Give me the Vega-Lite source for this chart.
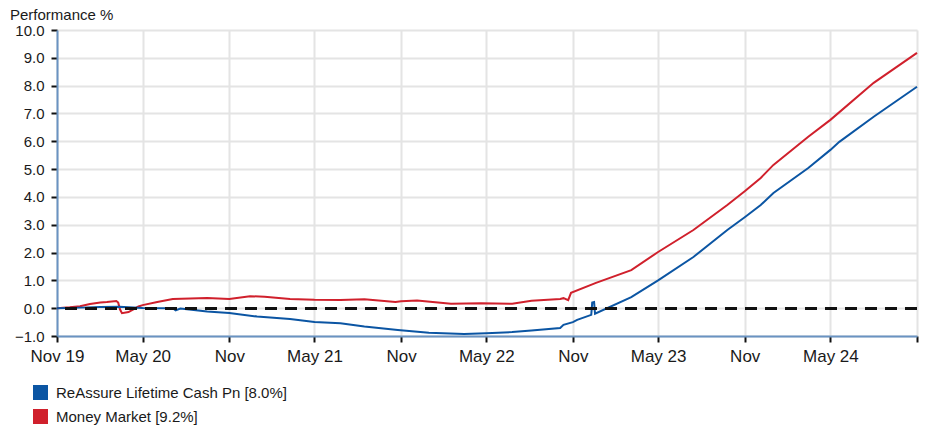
{
  "$schema": "https://vega.github.io/schema/vega-lite/v6.json",
  "width": 860,
  "height": 306,
  "autosize": {"type": "none"},
  "padding": {"left": 57, "top": 30, "right": 16, "bottom": 91},
  "background": "white",
  "title": {
    "text": "Performance %",
    "anchor": "start",
    "frame": "group",
    "dx": -47,
    "offset": -12,
    "baseline": "alphabetic",
    "fontSize": 15,
    "fontWeight": "normal",
    "font": "Liberation Sans",
    "color": "#1a1a1a"
  },
  "config": {
    "view": {"stroke": null},
    "font": "Liberation Sans",
    "axis": {
      "gridColor": "#e4e4e4",
      "gridWidth": 2,
      "domainColor": "#6a93c2",
      "domainWidth": 2,
      "tickColor": "#111111",
      "tickWidth": 2,
      "tickSize": 6,
      "labelColor": "#1a1a1a",
      "labelFont": "Liberation Sans",
      "labelOverlap": false,
      "title": null
    },
    "axisY": {"labelOverlap": false, "labelFontSize": 15, "labelPadding": 7}
  },
  "data": {
    "values": [
      {"date": "2019-11-01", "series": "Money Market [9.2%]", "value": 0.0},
      {"date": "2019-11-28", "series": "Money Market [9.2%]", "value": 0.03},
      {"date": "2019-12-20", "series": "Money Market [9.2%]", "value": 0.07},
      {"date": "2020-01-10", "series": "Money Market [9.2%]", "value": 0.15},
      {"date": "2020-02-01", "series": "Money Market [9.2%]", "value": 0.2},
      {"date": "2020-02-15", "series": "Money Market [9.2%]", "value": 0.22},
      {"date": "2020-03-06", "series": "Money Market [9.2%]", "value": 0.26},
      {"date": "2020-03-10", "series": "Money Market [9.2%]", "value": 0.2},
      {"date": "2020-03-14", "series": "Money Market [9.2%]", "value": -0.05},
      {"date": "2020-03-18", "series": "Money Market [9.2%]", "value": -0.18},
      {"date": "2020-04-01", "series": "Money Market [9.2%]", "value": -0.14},
      {"date": "2020-04-22", "series": "Money Market [9.2%]", "value": 0.06},
      {"date": "2020-05-01", "series": "Money Market [9.2%]", "value": 0.11},
      {"date": "2020-06-01", "series": "Money Market [9.2%]", "value": 0.22},
      {"date": "2020-07-04", "series": "Money Market [9.2%]", "value": 0.33},
      {"date": "2020-08-10", "series": "Money Market [9.2%]", "value": 0.35},
      {"date": "2020-09-15", "series": "Money Market [9.2%]", "value": 0.37},
      {"date": "2020-11-01", "series": "Money Market [9.2%]", "value": 0.33},
      {"date": "2020-12-15", "series": "Money Market [9.2%]", "value": 0.43},
      {"date": "2021-01-15", "series": "Money Market [9.2%]", "value": 0.41},
      {"date": "2021-03-10", "series": "Money Market [9.2%]", "value": 0.33},
      {"date": "2021-05-01", "series": "Money Market [9.2%]", "value": 0.3},
      {"date": "2021-06-25", "series": "Money Market [9.2%]", "value": 0.29},
      {"date": "2021-08-15", "series": "Money Market [9.2%]", "value": 0.32},
      {"date": "2021-10-20", "series": "Money Market [9.2%]", "value": 0.22},
      {"date": "2021-11-01", "series": "Money Market [9.2%]", "value": 0.25},
      {"date": "2021-12-05", "series": "Money Market [9.2%]", "value": 0.28},
      {"date": "2022-02-15", "series": "Money Market [9.2%]", "value": 0.16},
      {"date": "2022-04-20", "series": "Money Market [9.2%]", "value": 0.18},
      {"date": "2022-06-25", "series": "Money Market [9.2%]", "value": 0.16},
      {"date": "2022-08-05", "series": "Money Market [9.2%]", "value": 0.27},
      {"date": "2022-10-05", "series": "Money Market [9.2%]", "value": 0.33},
      {"date": "2022-10-12", "series": "Money Market [9.2%]", "value": 0.36},
      {"date": "2022-10-22", "series": "Money Market [9.2%]", "value": 0.29},
      {"date": "2022-10-28", "series": "Money Market [9.2%]", "value": 0.55},
      {"date": "2022-12-20", "series": "Money Market [9.2%]", "value": 0.91},
      {"date": "2023-03-05", "series": "Money Market [9.2%]", "value": 1.37},
      {"date": "2023-05-01", "series": "Money Market [9.2%]", "value": 2.02},
      {"date": "2023-07-15", "series": "Money Market [9.2%]", "value": 2.81},
      {"date": "2023-09-25", "series": "Money Market [9.2%]", "value": 3.71},
      {"date": "2023-11-01", "series": "Money Market [9.2%]", "value": 4.2},
      {"date": "2023-12-05", "series": "Money Market [9.2%]", "value": 4.68},
      {"date": "2024-01-01", "series": "Money Market [9.2%]", "value": 5.15},
      {"date": "2024-03-15", "series": "Money Market [9.2%]", "value": 6.16},
      {"date": "2024-05-01", "series": "Money Market [9.2%]", "value": 6.77},
      {"date": "2024-08-01", "series": "Money Market [9.2%]", "value": 8.1},
      {"date": "2024-11-01", "series": "Money Market [9.2%]", "value": 9.18},
      {"date": "2019-11-01", "series": "ReAssure Lifetime Cash Pn [8.0%]", "value": 0.0},
      {"date": "2019-12-20", "series": "ReAssure Lifetime Cash Pn [8.0%]", "value": 0.02},
      {"date": "2020-02-01", "series": "ReAssure Lifetime Cash Pn [8.0%]", "value": 0.04},
      {"date": "2020-03-12", "series": "ReAssure Lifetime Cash Pn [8.0%]", "value": 0.05},
      {"date": "2020-05-01", "series": "ReAssure Lifetime Cash Pn [8.0%]", "value": 0.01},
      {"date": "2020-07-04", "series": "ReAssure Lifetime Cash Pn [8.0%]", "value": 0.0},
      {"date": "2020-07-10", "series": "ReAssure Lifetime Cash Pn [8.0%]", "value": -0.08},
      {"date": "2020-07-20", "series": "ReAssure Lifetime Cash Pn [8.0%]", "value": -0.01},
      {"date": "2020-09-15", "series": "ReAssure Lifetime Cash Pn [8.0%]", "value": -0.12},
      {"date": "2020-11-01", "series": "ReAssure Lifetime Cash Pn [8.0%]", "value": -0.17},
      {"date": "2020-12-30", "series": "ReAssure Lifetime Cash Pn [8.0%]", "value": -0.3},
      {"date": "2021-03-10", "series": "ReAssure Lifetime Cash Pn [8.0%]", "value": -0.39},
      {"date": "2021-05-01", "series": "ReAssure Lifetime Cash Pn [8.0%]", "value": -0.5},
      {"date": "2021-06-25", "series": "ReAssure Lifetime Cash Pn [8.0%]", "value": -0.54},
      {"date": "2021-08-15", "series": "ReAssure Lifetime Cash Pn [8.0%]", "value": -0.66},
      {"date": "2021-10-25", "series": "ReAssure Lifetime Cash Pn [8.0%]", "value": -0.78},
      {"date": "2021-12-30", "series": "ReAssure Lifetime Cash Pn [8.0%]", "value": -0.88},
      {"date": "2022-03-15", "series": "ReAssure Lifetime Cash Pn [8.0%]", "value": -0.93},
      {"date": "2022-05-01", "series": "ReAssure Lifetime Cash Pn [8.0%]", "value": -0.9},
      {"date": "2022-06-25", "series": "ReAssure Lifetime Cash Pn [8.0%]", "value": -0.86},
      {"date": "2022-08-05", "series": "ReAssure Lifetime Cash Pn [8.0%]", "value": -0.8},
      {"date": "2022-10-05", "series": "ReAssure Lifetime Cash Pn [8.0%]", "value": -0.71},
      {"date": "2022-10-12", "series": "ReAssure Lifetime Cash Pn [8.0%]", "value": -0.6},
      {"date": "2022-11-01", "series": "ReAssure Lifetime Cash Pn [8.0%]", "value": -0.5},
      {"date": "2022-11-10", "series": "ReAssure Lifetime Cash Pn [8.0%]", "value": -0.42},
      {"date": "2022-12-10", "series": "ReAssure Lifetime Cash Pn [8.0%]", "value": -0.24},
      {"date": "2022-12-12", "series": "ReAssure Lifetime Cash Pn [8.0%]", "value": 0.2},
      {"date": "2022-12-16", "series": "ReAssure Lifetime Cash Pn [8.0%]", "value": 0.22},
      {"date": "2022-12-18", "series": "ReAssure Lifetime Cash Pn [8.0%]", "value": -0.2},
      {"date": "2023-03-05", "series": "ReAssure Lifetime Cash Pn [8.0%]", "value": 0.4},
      {"date": "2023-05-01", "series": "ReAssure Lifetime Cash Pn [8.0%]", "value": 1.0},
      {"date": "2023-07-15", "series": "ReAssure Lifetime Cash Pn [8.0%]", "value": 1.84},
      {"date": "2023-09-25", "series": "ReAssure Lifetime Cash Pn [8.0%]", "value": 2.81},
      {"date": "2023-11-01", "series": "ReAssure Lifetime Cash Pn [8.0%]", "value": 3.27},
      {"date": "2023-12-05", "series": "ReAssure Lifetime Cash Pn [8.0%]", "value": 3.71},
      {"date": "2024-01-01", "series": "ReAssure Lifetime Cash Pn [8.0%]", "value": 4.14},
      {"date": "2024-03-15", "series": "ReAssure Lifetime Cash Pn [8.0%]", "value": 5.04},
      {"date": "2024-05-01", "series": "ReAssure Lifetime Cash Pn [8.0%]", "value": 5.69},
      {"date": "2024-05-20", "series": "ReAssure Lifetime Cash Pn [8.0%]", "value": 5.98},
      {"date": "2024-08-01", "series": "ReAssure Lifetime Cash Pn [8.0%]", "value": 6.88},
      {"date": "2024-11-01", "series": "ReAssure Lifetime Cash Pn [8.0%]", "value": 7.96}
    ]
  },
  "layer": [
    {
      "mark": {"type": "line", "strokeWidth": 2, "interpolate": "linear"},
      "encoding": {
        "x": {
          "field": "date",
          "type": "temporal",
          "scale": {"domain": [{"year": 2019, "month": 11, "date": 1}, {"year": 2024, "month": 11, "date": 1}]},
          "axis": {
            "values": [
              {"year": 2019, "month": 11, "date": 1},
              {"year": 2020, "month": 5, "date": 1},
              {"year": 2020, "month": 11, "date": 1},
              {"year": 2021, "month": 5, "date": 1},
              {"year": 2021, "month": 11, "date": 1},
              {"year": 2022, "month": 5, "date": 1},
              {"year": 2022, "month": 11, "date": 1},
              {"year": 2023, "month": 5, "date": 1},
              {"year": 2023, "month": 11, "date": 1},
              {"year": 2024, "month": 5, "date": 1},
              {"year": 2024, "month": 11, "date": 1}
            ],
            "labelExpr": "month(datum.value) == 10 ? (year(datum.value) == 2019 ? 'Nov 19' : (year(datum.value) == 2024 ? '' : 'Nov')) : 'May ' + timeFormat(datum.value, '%y')",
            "labelFontSize": 17,
            "labelPadding": 6,
            "labelFlush": false,
            "labelOverlap": false
          }
        },
        "y": {
          "field": "value",
          "type": "quantitative",
          "scale": {"domain": [-1, 10], "nice": false, "zero": false},
          "axis": {
            "values": [-1, 0, 1, 2, 3, 4, 5, 6, 7, 8, 9, 10],
            "format": ".1f",
            "labelFontSize": 15,
            "labelPadding": 7,
            "labelOverlap": false,
            "labelFlush": false
          }
        },
        "color": {
          "field": "series",
          "type": "nominal",
          "scale": {
            "domain": ["ReAssure Lifetime Cash Pn [8.0%]", "Money Market [9.2%]"],
            "range": ["#0b55a3", "#d0202c"]
          },
          "legend": {
            "orient": "none",
            "legendX": -24,
            "legendY": 355,
            "direction": "vertical",
            "title": null,
            "padding": 0,
            "symbolType": "square",
            "symbolSize": 225,
            "symbolStrokeWidth": 0,
            "rowPadding": 8,
            "labelFontSize": 15,
            "labelOffset": 8,
            "labelColor": "#1a1a1a",
            "labelLimit": 400,
            "encode": {
              "symbols": {
                "update": {
                  "fill": {"scale": "color", "field": "value"},
                  "strokeWidth": {"value": 0}
                }
              }
            }
          }
        }
      }
    },
    {
      "mark": {"type": "rule", "strokeDash": [12, 8], "strokeWidth": 2, "color": "#111111"},
      "encoding": {
        "y": {
          "datum": 0,
          "type": "quantitative",
          "axis": {
            "values": [-1, 0, 1, 2, 3, 4, 5, 6, 7, 8, 9, 10],
            "format": ".1f",
            "labelOverlap": false,
            "labelFlush": false
          }
        }
      }
    }
  ]
}
